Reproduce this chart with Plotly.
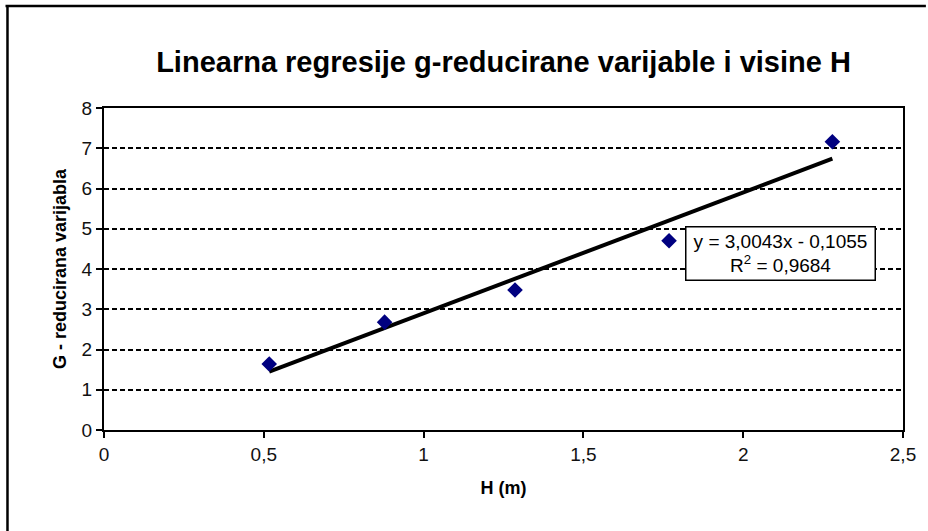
import plotly.graph_objects as go

# Data
h_values = [0.517, 0.878, 1.286, 1.768, 2.279]
g_values = [1.64, 2.68, 3.48, 4.70, 7.16]
slope = 3.0043
intercept = -0.1055
r_squared = 0.9684

x_ticks = [0, 0.5, 1, 1.5, 2, 2.5]
y_ticks = [0, 1, 2, 3, 4, 5, 6, 7, 8]

L, R, T, B = 104, 21, 108, 101
W, H = 928, 531
pw, ph = W - L - R, H - T - B

def px(xp):
    return (xp - L) / pw

def py(yp):
    return (H - B - yp) / ph

x_line = [min(h_values), max(h_values)]
y_line = [slope * v + intercept for v in x_line]

fig = go.Figure()
fig.add_trace(go.Scatter(
    x=x_line, y=y_line, mode="lines",
    line=dict(color="black", width=4), showlegend=False, hoverinfo="skip"))
fig.add_trace(go.Scatter(
    x=h_values, y=g_values, mode="markers",
    marker=dict(symbol="diamond", size=12, color="#000080"),
    showlegend=False))

fmt = lambda v: ("%g" % v).replace(".", ",")

fig.update_layout(
    width=W, height=H,
    margin=dict(l=L, r=R, t=T, b=B),
    paper_bgcolor="white", plot_bgcolor="white",
    font=dict(family="Liberation Sans, Arial, sans-serif", color="black"),
    title=dict(text="<b>Linearna regresije g-reducirane varijable i visine H</b>",
               x=503.5 / W, xanchor="center", y=1 - 62 / H, yanchor="middle",
               font=dict(size=29, color="black")),
    xaxis=dict(range=[0, 2.5], tickvals=x_ticks, ticktext=[fmt(v) for v in x_ticks],
               showgrid=False, zeroline=False,
               showline=True, linecolor="black", linewidth=2, mirror=True,
               ticks="outside", ticklen=6, tickwidth=2, tickcolor="black",
               tickfont=dict(size=19, color="#111"),
               title=dict(text="<b>H (m)</b>", font=dict(size=18), standoff=18)),
    yaxis=dict(range=[0, 8], tickvals=y_ticks, ticktext=[fmt(v) for v in y_ticks],
               showgrid=True, gridcolor="black", gridwidth=1.6, griddash="5px,3px",
               zeroline=False,
               showline=True, linecolor="black", linewidth=2, mirror=True,
               ticks="outside", ticklen=6, tickwidth=2, tickcolor="black",
               tickfont=dict(size=19, color="#111"),
               title=dict(text="<b>G - reducirana varijabla</b>", font=dict(size=18), standoff=10)),
    annotations=[dict(
        x=(784 - L) / pw * 2.5, y=(H - B - 253) / ph * 8, xref="x", yref="y",
        text=("y = %s x - %s<br>R<sup>2</sup> = %s" % (
            fmt(slope), fmt(abs(intercept)), fmt(r_squared))).replace(" x", "x"),
        showarrow=False, font=dict(size=19, color="black"),
        bgcolor="white", bordercolor="black", borderwidth=1.5, borderpad=2,
        width=184, height=48, align="center")],
    shapes=[
        dict(type="line", xref="paper", yref="paper",
             x0=px(5), x1=px(930), y0=py(6), y1=py(6),
             line=dict(color="black", width=2.5)),
        dict(type="line", xref="paper", yref="paper",
             x0=px(7), x1=px(7), y0=py(5), y1=py(535),
             line=dict(color="black", width=2.5)),
    ],
)

fig.write_html("out.html", config={"displayModeBar": False},
               post_script="document.body.style.margin='0';document.body.style.overflow='hidden';")
